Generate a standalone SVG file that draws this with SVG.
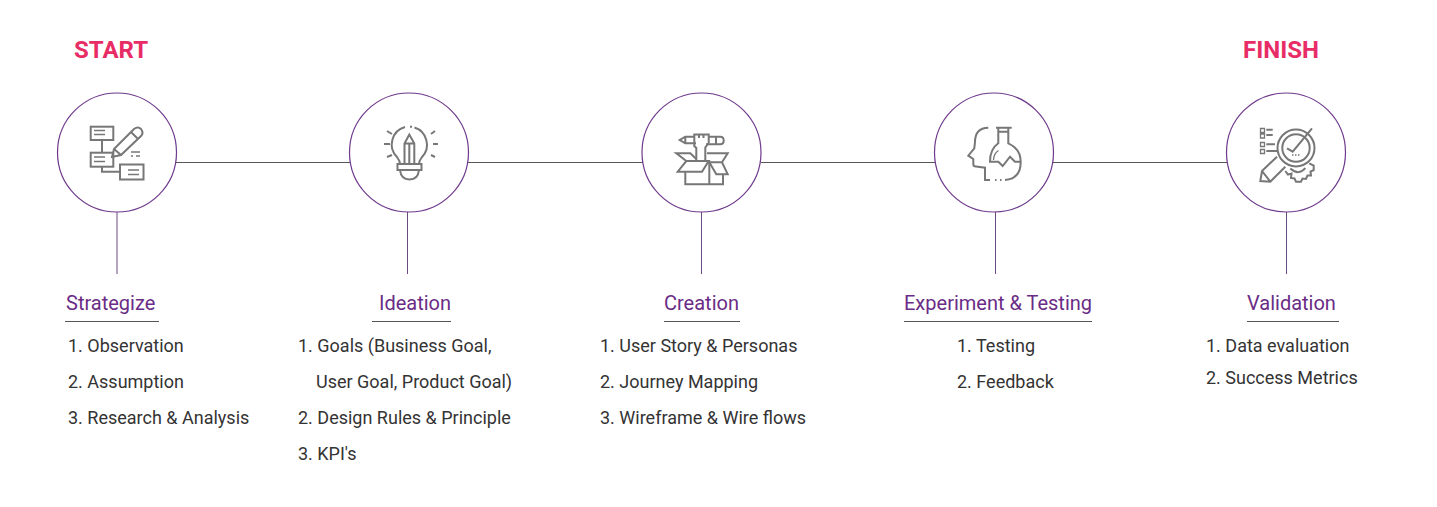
<svg xmlns="http://www.w3.org/2000/svg" width="1437" height="507" viewBox="0 0 1437 507">
<style>
text{font-family:Roboto,"Liberation Sans",sans-serif}
.cap{font-size:24px;font-weight:700;fill:#e82c66}
.head{font-size:20px;fill:#6a2c86}
.body{font-size:18px;fill:#333}
.ring{fill:#fff;stroke:#6f3a8c;stroke-width:1.2}
.conn{stroke:#555;stroke-width:1;fill:none}
.v{stroke:#6b4a80;stroke-width:1;fill:none}
.rule{stroke:#555;stroke-width:1}
.ic{fill:none;stroke:#777;stroke-width:2}
.thin{fill:none;stroke:#777;stroke-width:1.3}
</style>
<rect width="1437" height="507" fill="#fff"/>
<g id="connectors">
<path class="conn" d="M176 162.500H350M468 162.500H643M761 162.500H935M1053 162.500H1227"/>
<path class="v" d="M117 212V274M407.500 212V274M701.500 212V274M995.500 212V274M1286.500 212V274"/>
</g>
<text class="cap" x="74" y="58">START</text>
<text class="cap" x="1243" y="58">FINISH</text>
<g id="node-strategize">
<circle class="ring" cx="117" cy="152.500" r="59.5"/>
<rect class="ic" x="90.7" y="126.700" width="22.6" height="13.3"/>
<rect class="ic" x="90.7" y="152.700" width="22.6" height="14"/>
<rect class="ic" x="120" y="164.500" width="23.5" height="15"/>
<path class="ic" d="M102 140V152.700M102 166.700V171.700H120"/>
<path class="thin" d="M94 130.500H105M94 134.500H105M94 157H105M94 161.500H105M128 170H139M128 174.500H139M131 152H140M131 156H133M136 156H140"/>
<path class="ic" d="M112 157L114 149L134 129Q138 126 141 129Q144 133 141 136L121 155ZM114 149L121 155M131 132L138 139"/>
<text class="head" x="66" y="310">Strategize</text>
<line class="rule" x1="65" y1="321.500" x2="159" y2="321.500"/>
<text class="body" x="68" y="352">1. Observation</text>
<text class="body" x="68" y="388">2. Assumption</text>
<text class="body" x="68" y="424">3. Research &amp; Analysis</text>
</g>
<g id="node-ideation">
<circle class="ring" cx="409" cy="152.500" r="59.5"/>
<path class="ic" d="M405 127A18 18 0 0 0 397 157Q400 161 400 164M414.500 127.500A18 18 0 0 1 422 157Q419 161 419 164"/>
<path class="ic" d="M410 126.800H412"/>
<path class="ic" d="M404.500 164V143.500L409.300 134.500L414.300 143.500V164M404.500 143.500H414.300M409.300 143.500V164"/>
<rect class="ic" x="397.500" y="164" width="24" height="6"/>
<path class="ic" d="M400 170Q401 179.500 409.500 179.500Q418 179.500 419 170"/>
<path class="ic" d="M384 144H390M433 144H438M387 131L392 134M431 134L435 131M387 157L392 155M431 155L435 157"/>
<text class="head" x="379" y="310">Ideation</text>
<line class="rule" x1="372" y1="321.500" x2="451" y2="321.500"/>
<text class="body" x="298" y="352">1. Goals (Business Goal,</text>
<text class="body" x="316" y="388">User Goal, Product Goal)</text>
<text class="body" x="298" y="424">2. Design Rules &amp; Principle</text>
<text class="body" x="298" y="460">3. KPI's</text>
</g>
<g id="node-creation">
<circle class="ring" cx="701.500" cy="152.500" r="59.5"/>
<path class="ic" d="M694.300 136.700H685.300L679.700 140L685.300 143.300H696M708.700 136.700H720.300Q723.700 136.700 723.700 140.500Q723.700 144.300 720.300 144.300H706M685.300 136.700V143.300M716 136.700V144.300"/>
<path class="ic" d="M696.300 161V148L694.300 146V134.500H708.700V143L705.300 147.500V161M699 134.500V138M703.500 134.500V138"/>
<path class="ic" d="M685.300 171.700V184.300H723V174.300M709.300 162.300V184.300"/>
<path class="ic" d="M686.300 161H708.700L702 171.700H677.700ZM709.300 162.300L716.300 174.300H727.700L722 162.300ZM686.300 161L676.300 153.300H690.300L696.300 159M707 153.300H727.700L722 162.300"/>
<text class="head" x="664" y="310">Creation</text>
<line class="rule" x1="664" y1="321.500" x2="740" y2="321.500"/>
<text class="body" x="600" y="352">1. User Story &amp; Personas</text>
<text class="body" x="600" y="388">2. Journey Mapping</text>
<text class="body" x="600" y="424">3. Wireframe &amp; Wire flows</text>
</g>
<g id="node-experiment">
<circle class="ring" cx="994" cy="152.500" r="59.5"/>
<path class="ic" d="M988.300 127.700Q975 128 975 142L974.300 148.300L968.300 155.700L973.300 159V164Q973.300 166.500 976 166.500L985 167.700V180H990M995 180H996.500M1000 180H1001.500M1005 180Q1020.700 179 1020.700 161.700Q1020.700 149 1008.300 143.300V127.700M998.300 127.700V143.300Q990 149 990 161.700H998.300L1002.700 166L1010 156.700L1015 161.700H1020.700"/>
<path class="ic" d="M996 127.700H1011.700M998.300 131.700H1008.300"/>
<path class="thin" d="M993.500 160Q994 153 998.500 150.500"/>
<text class="head" x="904" y="310">Experiment &amp; Testing</text>
<line class="rule" x1="904" y1="321.500" x2="1092" y2="321.500"/>
<text class="body" x="957" y="352">1. Testing</text>
<text class="body" x="957" y="388">2. Feedback</text>
</g>
<g id="node-validation">
<circle class="ring" cx="1286" cy="152.500" r="59.5"/>
<circle class="ic" cx="1296" cy="148" r="18.500"/>
<circle class="ic" cx="1296" cy="148" r="13.700"/>
<path class="ic" d="M1287 148.300L1292.700 151.700L1312 128.300"/>
<path class="thin" d="M1260.500 128.500h4v4h-4zM1260.500 134h4v4h-4zM1260.500 142.500h4v4h-4zM1260.500 149.500h4v4h-4z"/>
<path class="ic" d="M1266.300 129.700H1272.700M1266.300 135H1272.700M1266.300 144.300H1275M1266.300 151H1277"/>
<path class="ic" d="M1277 156.700L1262 171L1260.300 181L1270.300 181.700L1285.300 166.700M1262 171L1270.300 181.700"/>
<path class="ic" d="M1285.300 171L1288 174.500L1291.500 173.500L1291 178L1294.500 178.500L1296 181.700H1301L1302.500 178.500L1306 179L1307.500 175.500L1311 175.500L1310.500 171.500L1313.700 170V165.500L1309.300 163.300"/>
<path class="ic" d="M1290.300 168.500Q1299 176 1305.300 168"/>
<path class="thin" d="M1292 155H1293.500M1295 155H1296.500M1298 155H1299.500"/>
<text class="head" x="1247" y="310">Validation</text>
<line class="rule" x1="1247" y1="321.500" x2="1339" y2="321.500"/>
<text class="body" x="1206" y="352">1. Data evaluation</text>
<text class="body" x="1206" y="384">2. Success Metrics</text>
</g>
</svg>
